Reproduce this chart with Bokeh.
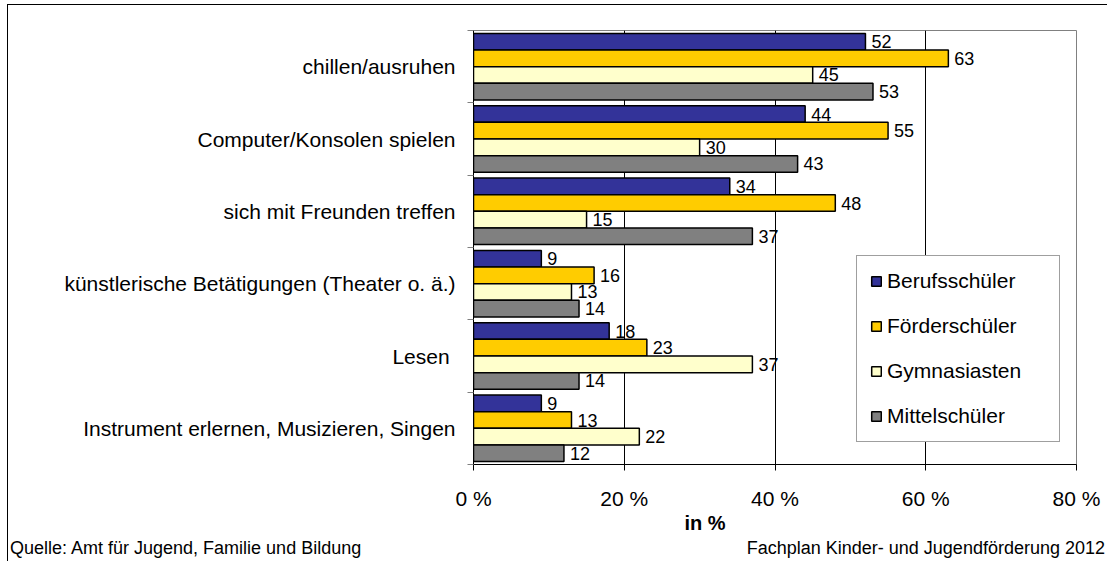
from bokeh.plotting import figure
from bokeh.models import ColumnDataSource, Range1d, FixedTicker, Legend, LegendItem, Title, Div
from bokeh.layouts import column
from bokeh.transform import dodge
from bokeh.core.properties import value
from bokeh.embed import file_html
from bokeh.resources import INLINE

categories = [
    "chillen/ausruhen",
    "Computer/Konsolen spielen",
    "sich mit Freunden treffen",
    "künstlerische Betätigungen (Theater o. ä.)",
    "Lesen ",
    "Instrument erlernen, Musizieren, Singen",
]
series_names = ["Berufsschüler", "Förderschüler", "Gymnasiasten", "Mittelschüler"]
berufsschueler = [52, 44, 34, 9, 18, 9]
foerderschueler = [63, 55, 48, 16, 23, 13]
gymnasiasten = [45, 30, 15, 13, 37, 22]
mittelschueler = [53, 43, 37, 14, 14, 12]
series_values = [berufsschueler, foerderschueler, gymnasiasten, mittelschueler]
colors = ["#333399", "#FFCC00", "#FFFFCC", "#808080"]
x_ticks = [0, 20, 40, 60, 80]
x_tick_labels = ["0 %", "20 %", "40 %", "60 %", "80 %"]
axis_title = "in %"
source_left = "Quelle: Amt für Jugend, Familie und Bildung"
source_right = "Fachplan Kinder- und Jugendförderung 2012"

FONT = "Liberation Sans"
n = len(categories)
centers = [i + 0.5 for i in range(n)]

W, H = 1099, 530
p = figure(width=W, height=H, output_backend="svg", toolbar_location=None,
           x_range=Range1d(0, 80), y_range=Range1d(n, 0),
           min_border_left=465, min_border_right=31, min_border_top=25, min_border_bottom=71)
p.outline_line_color = "#808080"
p.outline_line_width = 1
p.background_fill_color = "white"
p.border_fill_color = "white"

# x axis
p.xaxis.ticker = FixedTicker(ticks=x_ticks)
p.xaxis.major_label_overrides = {t: l for t, l in zip(x_ticks, x_tick_labels)}
p.xaxis.major_tick_out = 6
p.xaxis.major_tick_in = 0
p.xaxis.minor_tick_out = 0
p.xaxis.minor_tick_in = 0
p.xaxis.axis_line_color = "black"
p.xaxis.major_tick_line_color = "black"
p.xaxis.major_label_text_font = FONT
p.xaxis.major_label_text_font_size = "21px"
p.xaxis.major_label_text_color = "black"
p.xaxis.major_label_standoff = 16

# y axis
p.yaxis.ticker = FixedTicker(ticks=centers, minor_ticks=list(range(n + 1)))
p.yaxis.major_label_overrides = {c: lab for c, lab in zip(centers, categories)}
p.yaxis.major_tick_out = 0
p.yaxis.major_tick_in = 0
p.yaxis.minor_tick_out = 6
p.yaxis.minor_tick_in = 0
p.yaxis.minor_tick_line_color = "#808080"
p.yaxis.axis_line_color = "black"
p.yaxis.major_label_text_font = FONT
p.yaxis.major_label_text_font_size = "21px"
p.yaxis.major_label_text_color = "black"
p.yaxis.major_label_standoff = 12

p.xgrid.ticker = FixedTicker(ticks=x_ticks)
p.xgrid.grid_line_color = "black"
p.xgrid.grid_line_width = 1
p.ygrid.grid_line_color = None

bar_h = 0.23
items = []
for j, (name, vals, col) in enumerate(zip(series_names, series_values, colors)):
    src = ColumnDataSource(dict(y=centers, v=vals, t=[str(v) for v in vals]))
    off = (j - 1.5) * bar_h
    r = p.hbar(y=dodge("y", off, range=p.y_range), right="v", left=0, height=bar_h,
               source=src, fill_color=col, line_color="black", line_width=1.5)
    p.text(x="v", y=dodge("y", off, range=p.y_range), text="t", source=src,
           x_offset=6, text_baseline="middle", text_align="left",
           text_font=value(FONT), text_font_size="18px", text_color="black")
    items.append(LegendItem(label=name, renderers=[r]))

legend = Legend(items=items, location=(383, 22), orientation="vertical")
legend.label_text_font = FONT
legend.label_text_font_size = "21px"
legend.label_text_color = "black"
legend.glyph_width = 12
legend.glyph_height = 12
legend.label_height = 22
legend.label_width = 159
legend.label_standoff = 5
legend.spacing = 21
legend.padding = 13
legend.margin = 0
legend.border_line_color = "#404040"
legend.border_line_width = 1
legend.background_fill_color = "white"
legend.background_fill_alpha = 1
p.add_layout(legend, "center")

# axis title, placed left of centre as in the original
p.add_layout(Title(text=axis_title, align="left", offset=211, standoff=-5,
                   text_font=FONT, text_font_size="20px", text_font_style="bold",
                   text_color="black"), "below")

footer = Div(
    text=(
        '<div style="position:relative;width:1099px;height:26px;overflow:hidden;'
        'font-family:\'Liberation Sans\',Arial,sans-serif;font-size:18px;line-height:26px;color:#000;">'
        f'<span style="position:absolute;left:2px;top:0;white-space:nowrap;">{source_left}</span>'
        f'<span style="position:absolute;right:2px;top:0;white-space:nowrap;">{source_right}</span>'
        '</div>'
    ),
    width=W, height=26,
    styles={"margin": "0", "padding": "0"},
)

layout = column(p, footer, spacing=0,
                styles={"margin-left": "7px", "margin-top": "4px",
                        "border-top": "1px solid #000", "border-left": "1px solid #000"})

open("out.html", "w").write(file_html(layout, INLINE))
